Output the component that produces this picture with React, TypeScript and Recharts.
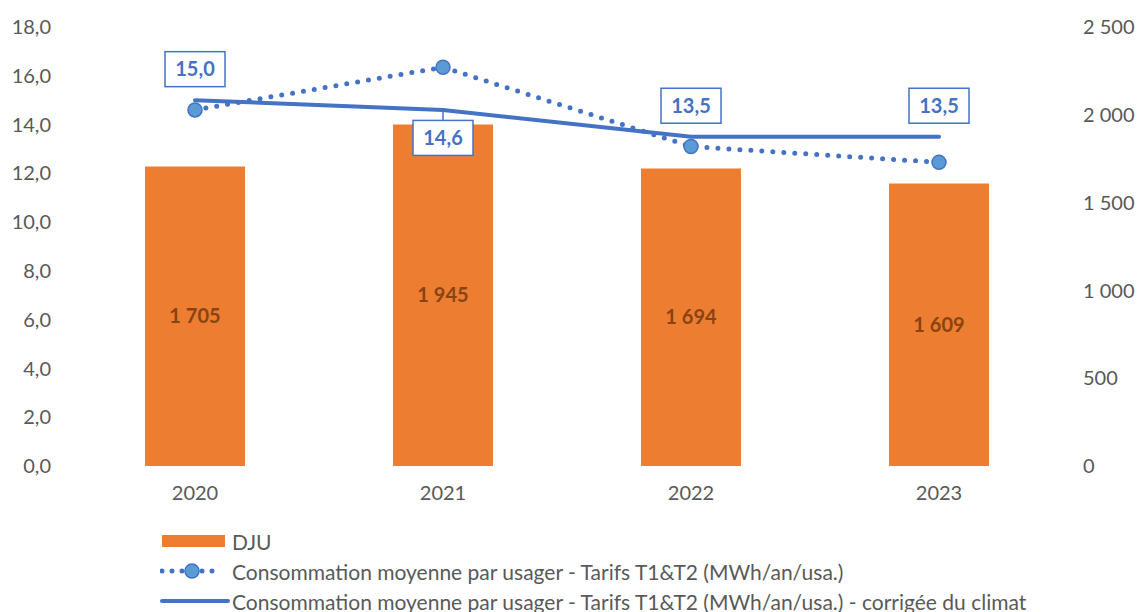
import React from 'react';
import { ComposedChart, Bar, Line, XAxis, YAxis, Legend, LabelList } from 'recharts';

const years = ['2020', '2021', '2022', '2023'];
const dju = [1705, 1945, 1694, 1609];
const conso = [14.6, 16.35, 13.1, 12.45];
const consoClimat = [15.0, 14.6, 13.5, 13.5];
const leftTicks = [0, 2, 4, 6, 8, 10, 12, 14, 16, 18];
const rightTicks = [0, 500, 1000, 1500, 2000, 2500];

const legendLabels = [
  'DJU',
  'Consommation moyenne par usager - Tarifs T1&T2 (MWh/an/usa.)',
  'Consommation moyenne par usager - Tarifs T1&T2 (MWh/an/usa.) - corrigée du climat',
];

const data = years.map((y, i) => ({ year: y, dju: dju[i], conso: conso[i], climat: consoClimat[i] }));

const ORANGE = '#ED7D31';
const BLUE = '#4472C4';
const LIGHT_BLUE = '#5B9BD5';
const GREY = '#595959';
const FONT = 'Lato, "Liberation Sans", sans-serif';

const fmt1 = (v: number) => v.toFixed(1).replace('.', ',');
const fmtThousands = (v: number) => String(v).replace(/\B(?=(\d{3})+(?!\d))/g, ' ');

// label boxes of the climate-corrected line
const renderClimLabel = (props: any) => {
  const { x, y, value, index } = props;
  const w = 60;
  const h = 35;
  const below = index === 1;
  const cy = below ? y + 28 : y - 31;
  return (
    <g>
      {below && <line x1={x} y1={y} x2={x} y2={cy - h / 2} stroke={BLUE} strokeWidth={1.5} />}
      <rect x={x - w / 2} y={cy - h / 2} width={w} height={h} fill="#fff" stroke={BLUE} strokeWidth={1.5} />
      <text x={x} y={cy} dy="0.36em" textAnchor="middle" fill={BLUE} fontWeight="bold" fontSize={20} fontFamily={FONT}>
        {fmt1(value)}
      </text>
    </g>
  );
};

const LegendContent = () => (
  <div style={{ height: 100, paddingTop: 14, boxSizing: 'border-box', fontFamily: FONT, fontSize: 21, color: GREY }}>
    <div style={{ display: 'flex', alignItems: 'center', height: 30 }}>
      <svg width={72} height={30}>
        <rect x={2} y={9} width={63} height={12} fill={ORANGE} />
      </svg>
      <span>{legendLabels[0]}</span>
    </div>
    <div style={{ display: 'flex', alignItems: 'center', height: 30 }}>
      <svg width={72} height={30}>
        <line x1={2} y1={15} x2={62} y2={15} stroke={BLUE} strokeWidth={5} strokeLinecap="round" strokeDasharray="0 10" />
        <circle cx={32} cy={15} r={7} fill={LIGHT_BLUE} stroke={BLUE} strokeWidth={1.5} />
      </svg>
      <span>{legendLabels[1]}</span>
    </div>
    <div style={{ display: 'flex', alignItems: 'center', height: 30 }}>
      <svg width={72} height={30}>
        <line x1={2} y1={15} x2={68} y2={15} stroke={BLUE} strokeWidth={4} strokeLinecap="round" />
      </svg>
      <span>{legendLabels[2]}</span>
    </div>
  </div>
);

export default function App() {
  return (
    <div style={{ position: 'absolute', left: 0, top: 0, width: 1137, height: 612, background: '#fff', overflow: 'hidden' }}>
      <ComposedChart width={1137} height={612} data={data} margin={{ top: 27, right: 0, bottom: 0, left: 0 }}>
        <XAxis
          dataKey="year"
          axisLine={false}
          tickLine={false}
          tickSize={0}
          tickMargin={20}
          height={46}
          tick={{ fill: GREY, fontSize: 20, fontFamily: FONT }}
        />
        <YAxis
          yAxisId="left"
          domain={[0, 18]}
          ticks={leftTicks}
          tickFormatter={fmt1}
          axisLine={false}
          tickLine={false}
          tickSize={0}
          tickMargin={20}
          width={71}
          tick={{ fill: GREY, fontSize: 20, fontFamily: FONT }}
        />
        <YAxis
          yAxisId="right"
          orientation="right"
          domain={[0, 2500]}
          ticks={rightTicks}
          tickFormatter={fmtThousands}
          axisLine={false}
          tickLine={false}
          tickSize={0}
          tickMargin={20}
          width={74}
          tick={{ fill: GREY, fontSize: 20, fontFamily: FONT, textAnchor: 'start' }}
        />
        <Legend verticalAlign="bottom" align="left" wrapperStyle={{ left: 160, width: 970 }} content={<LegendContent />} />
        <Bar yAxisId="right" dataKey="dju" fill={ORANGE} barSize={100} isAnimationActive={false}>
          <LabelList
            dataKey="dju"
            position="center"
            formatter={(v: any) => fmtThousands(v)}
            fill="#8A4412"
            fontWeight="bold"
            fontSize={20}
            fontFamily={FONT}
          />
        </Bar>
        <Line
          yAxisId="left"
          dataKey="conso"
          stroke={BLUE}
          strokeWidth={5}
          strokeLinecap="round"
          strokeDasharray="0 11"
          dot={{ r: 7, fill: LIGHT_BLUE, stroke: BLUE, strokeWidth: 1.5, strokeDasharray: '' }}
          activeDot={false}
          isAnimationActive={false}
        />
        <Line
          yAxisId="left"
          dataKey="climat"
          stroke={BLUE}
          strokeWidth={4}
          strokeLinecap="round"
          dot={false}
          activeDot={false}
          isAnimationActive={false}
        >
          <LabelList dataKey="climat" content={renderClimLabel} />
        </Line>
      </ComposedChart>
    </div>
  );
}
